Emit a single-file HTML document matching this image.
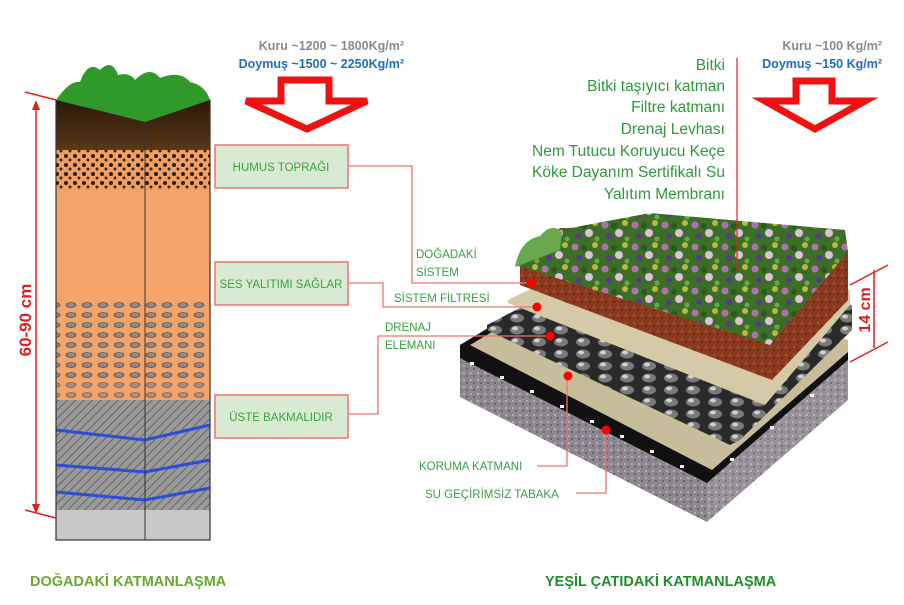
<!DOCTYPE html>
<html><head><meta charset="utf-8"><style>
html,body{margin:0;padding:0;background:#fff}
svg{display:block}
text{font-family:"Liberation Sans",sans-serif}
</style></head><body>
<svg width="904" height="605" viewBox="0 0 904 605" xmlns="http://www.w3.org/2000/svg">
<defs>
<pattern id="hatch" width="6" height="6" patternUnits="userSpaceOnUse" patternTransform="rotate(45)"><rect width="6" height="6" fill="#9a9a9a"/><line x1="0" y1="0" x2="0" y2="6" stroke="#555" stroke-width="1.5"/></pattern>
<pattern id="dots" width="7" height="7" patternUnits="userSpaceOnUse"><rect width="7" height="7" fill="#8e8690"/><circle cx="2" cy="2" r="0.8" fill="#ddd"/><circle cx="5" cy="5" r="0.7" fill="#333"/></pattern>
<pattern id="bumps" width="22" height="12" patternUnits="userSpaceOnUse"><rect width="22" height="12" fill="#2a2a2a"/><ellipse cx="11" cy="6" rx="7" ry="4.5" fill="#7a7a7a"/><ellipse cx="9" cy="4.5" rx="3" ry="2" fill="#d0d0d0"/></pattern>
<pattern id="flowers" width="30" height="22" patternUnits="userSpaceOnUse"><rect width="30" height="22" fill="#3d6e28"/><circle cx="5" cy="5" r="3.5" fill="#b070b0"/><circle cx="19" cy="13" r="4" fill="#dcc0dc"/><circle cx="25" cy="3" r="3" fill="#b8b840"/><circle cx="9" cy="16" r="3" fill="#5a3a90"/><circle cx="14" cy="6" r="3" fill="#2a5a1a"/><circle cx="27" cy="19" r="2.5" fill="#6aa84f"/></pattern>
<pattern id="soilp" width="8" height="8" patternUnits="userSpaceOnUse"><rect width="8" height="8" fill="#8a3a1e"/><circle cx="2" cy="3" r="1" fill="#b5562c"/><circle cx="6" cy="6" r="1" fill="#5a2210"/></pattern>
<pattern id="humus" width="9" height="9" patternUnits="userSpaceOnUse"><rect width="9" height="9" fill="#f0a060"/><circle cx="3" cy="3" r="2" fill="#2a1a0a"/><circle cx="7" cy="7" r="1.5" fill="#3a2510"/></pattern>
<pattern id="pebbles" width="16" height="10" patternUnits="userSpaceOnUse"><rect width="16" height="10" fill="#f4a46a"/><ellipse cx="7" cy="5" rx="5" ry="2.5" fill="#8a8a8a" stroke="#333" stroke-width="0.6"/></pattern>
<linearGradient id="topdark" x1="0" y1="0" x2="0" y2="1"><stop offset="0" stop-color="#2a1808"/><stop offset="1" stop-color="#5a3818"/></linearGradient>
</defs>

<!-- soil column -->
<rect x="56" y="100" width="154" height="440" fill="#f4a46a"/>
<rect x="56" y="100" width="154" height="50" fill="url(#topdark)"/>
<rect x="56" y="150" width="154" height="40" fill="url(#humus)"/>
<rect x="56" y="300" width="154" height="80" fill="url(#pebbles)"/>
<rect x="56" y="380" width="154" height="30" fill="url(#pebbles)" opacity="0.8"/>
<rect x="56" y="400" width="154" height="140" fill="url(#hatch)"/>
<path d="M56 430 L145 440 L210 425 M56 465 L145 472 L210 460 M56 492 L145 500 L210 488" stroke="#2d4cd8" stroke-width="3" fill="none"/>
<rect x="56" y="510" width="154" height="30" fill="#c8c8c8"/>
<line x1="145" y1="120" x2="145" y2="540" stroke="#333" stroke-width="1"/>
<rect x="56" y="100" width="154" height="440" fill="none" stroke="#333" stroke-width="1.2"/>
<path d="M56 100 Q70 80 80 82 Q88 60 100 70 Q112 58 118 75 Q130 72 135 80 Q150 65 160 78 Q180 70 190 82 Q205 85 210 100 L145 122 Z" fill="#2f9a2a"/>
<!-- 60-90 dimension -->
<line x1="36" y1="102" x2="36" y2="512" stroke="#e02020" stroke-width="1.5"/>
<line x1="25" y1="92" x2="56" y2="100" stroke="#e02020" stroke-width="1.5"/>
<line x1="25" y1="510" x2="56" y2="518" stroke="#e02020" stroke-width="1.5"/>
<path d="M32 110 L36 100 L40 110 Z M32 504 L36 514 L40 504 Z" fill="#e02020"/>
<text transform="translate(31 320) rotate(-90)" font-size="17" font-weight="bold" fill="#e02020" text-anchor="middle">60-90 cm</text>

<!-- weights left -->
<text x="404" y="50" font-size="12.5" font-weight="bold" fill="#8a8a8a" text-anchor="end">Kuru ~1200 ~ 1800Kg/m²</text>
<text x="404" y="68" font-size="12.5" font-weight="bold" fill="#1e6fc0" text-anchor="end">Doymuş ~1500 ~ 2250Kg/m²</text>
<path d="M281 80 L329 80 L329 101 L367 101 L307 129 L246 101 L281 101 Z" fill="#fff" stroke="#f01010" stroke-width="7"/>

<!-- weights right -->
<text x="882" y="50" font-size="12.5" font-weight="bold" fill="#8a8a8a" text-anchor="end">Kuru ~100 Kg/m²</text>
<text x="882" y="68" font-size="12.5" font-weight="bold" fill="#1e6fc0" text-anchor="end">Doymuş ~150 Kg/m²</text>
<path d="M796 81 L832 81 L832 101 L865 101 L815 129 L765 101 L796 101 Z" fill="#fff" stroke="#f01010" stroke-width="7"/>

<!-- right green text -->
<g font-size="15.5" fill="#2e9a3a" text-anchor="end">
<text x="725" y="70">Bitki</text>
<text x="725" y="91">Bitki taşıyıcı katman</text>
<text x="725" y="112">Filtre katmanı</text>
<text x="725" y="134">Drenaj Levhası</text>
<text x="725" y="156">Nem Tutucu Koruyucu Keçe</text>
<text x="725" y="177">Köke Dayanım Sertifikalı Su</text>
<text x="725" y="199">Yalıtım Membranı</text>
</g>

<!-- roof block -->
<!-- concrete -->
<polygon points="460,355 707,473 707,522 460,397" fill="url(#dots)"/>
<polygon points="707,473 848,360 848,400 707,522" fill="url(#dots)" opacity="0.9"/>
<!-- black membrane -->
<polygon points="460,345 600,260 848,345 848,360 707,483 460,358" fill="#111"/>
<g fill="#eee"><rect x="470" y="362" width="4" height="3"/><rect x="500" y="376" width="4" height="3"/><rect x="530" y="390" width="4" height="3"/><rect x="560" y="405" width="4" height="3"/><rect x="590" y="420" width="4" height="3"/><rect x="620" y="435" width="4" height="3"/><rect x="650" y="450" width="4" height="3"/><rect x="680" y="465" width="4" height="3"/><rect x="730" y="458" width="4" height="3"/><rect x="770" y="426" width="4" height="3"/><rect x="810" y="394" width="4" height="3"/></g>
<!-- beige protection -->
<polygon points="470,345 610,262 848,340 848,352 712,470" fill="#c8bd9a"/>
<!-- drainage -->
<polygon points="487,325 612,260 852,305 852,330 740,440 730,445 487,330" fill="url(#bumps)"/>
<!-- filter -->
<polygon points="508,300 600,255 850,290 850,305 765,405 508,303" fill="#d6c9a8"/>
<!-- soil -->
<polygon points="520,265 560,228 845,232 848,252 848,300 772,380 520,285" fill="url(#soilp)"/>
<!-- plants -->
<polygon points="515,265 560,230 650,213 845,230 848,252 770,345" fill="url(#flowers)"/>
<path d="M515 267 Q520 240 540 236 Q552 222 562 232 L560 250 Z" fill="#6aa84f"/>
<!-- 14 cm -->
<line x1="874" y1="270" x2="874" y2="348" stroke="#e02020" stroke-width="1.5"/>
<line x1="850" y1="285" x2="888" y2="265" stroke="#e02020" stroke-width="1.5"/>
<line x1="850" y1="362" x2="888" y2="342" stroke="#e02020" stroke-width="1.5"/>
<text transform="translate(870 310) rotate(-90)" font-size="16" font-weight="bold" fill="#e02020" text-anchor="middle">14 cm</text>
<line x1="737" y1="58" x2="737" y2="272" stroke="#e02020" stroke-width="1.2"/>

<!-- boxes -->
<g fill="#d9ead3" stroke="#f07070" stroke-width="1.5">
<rect x="215" y="145" width="133" height="43"/>
<rect x="215" y="262" width="133" height="43"/>
<rect x="215" y="395" width="133" height="43"/>
</g>
<g font-size="11.5" fill="#3aa040" text-anchor="middle">
<text x="281" y="171">HUMUS TOPRAĞI</text>
<text x="281" y="288">SES YALITIMI SAĞLAR</text>
<text x="281" y="421">ÜSTE BAKMALIDIR</text>
</g>
<!-- connectors -->
<g fill="none" stroke="#f07070" stroke-width="1.3">
<polyline points="348,166 412,166 412,283 531,283"/>
<polyline points="348,283 383,283 383,307 537,307"/>
<polyline points="348,414 378,414 378,336 550,336"/>
<polyline points="537,466 567,466 567,376"/>
<polyline points="576,493 606,493 606,430"/>
</g>
<g fill="#f00">
<circle cx="531" cy="283" r="4.5"/><circle cx="537" cy="307" r="4.5"/><circle cx="550" cy="336" r="4.5"/><circle cx="568" cy="376" r="4.5"/><circle cx="606" cy="430" r="4.5"/>
</g>
<g font-size="11.5" fill="#3aa040">
<text x="416" y="258">DOĞADAKİ</text>
<text x="416" y="276">SİSTEM</text>
<text x="394" y="302">SİSTEM FİLTRESİ</text>
<text x="385" y="331">DRENAJ</text>
<text x="385" y="349">ELEMANI</text>
<text x="419" y="470">KORUMA KATMANI</text>
<text x="425" y="498">SU GEÇİRİMSİZ TABAKA</text>
</g>

<!-- titles -->
<text x="30" y="586" font-size="14.5" font-weight="bold" fill="#6aa830">DOĞADAKİ KATMANLAŞMA</text>
<text x="545" y="586" font-size="14.5" font-weight="bold" fill="#1f8f2a">YEŞİL ÇATIDAKİ KATMANLAŞMA</text>
</svg>
</body></html>
